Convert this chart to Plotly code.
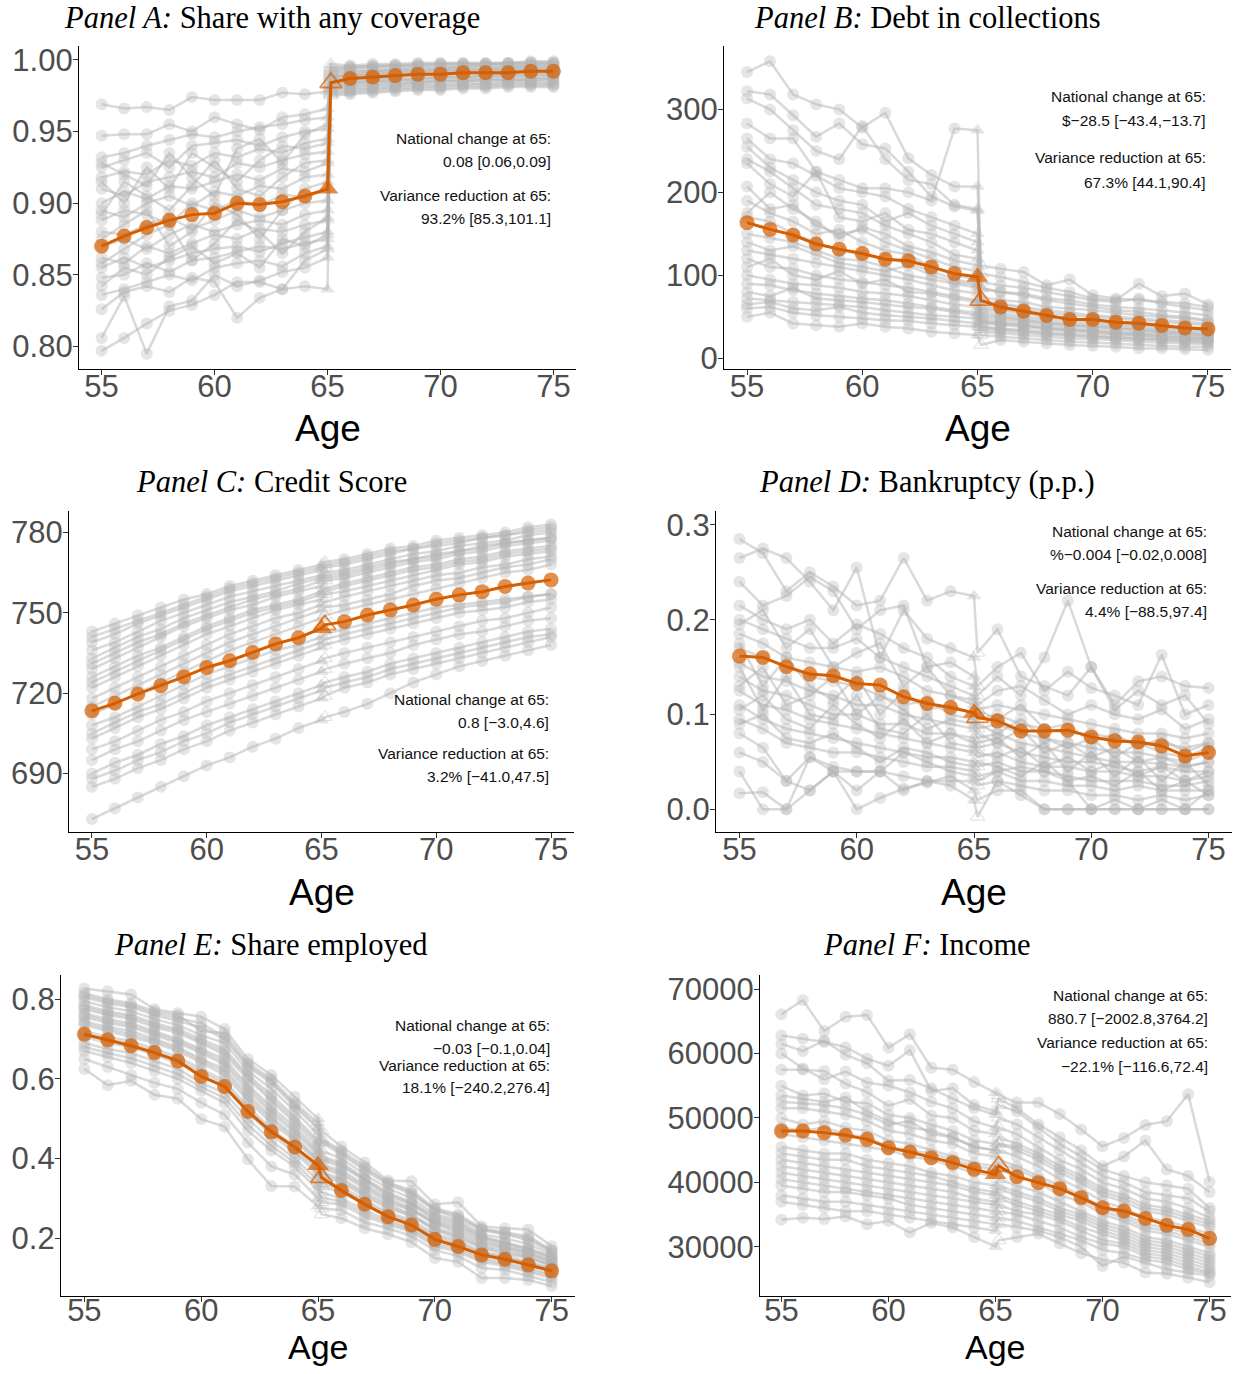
import plotly.graph_objects as go

# ---------------------------------------------------------------
# DATA  (each series: ages 55..64, then 65 pre-value, 65 post-value, then 66..75)
# ---------------------------------------------------------------
AGES_PRE = list(range(55, 65))
AGES_POST = list(range(66, 76))
AGE_TICKS = [55, 60, 65, 70, 75]

# Panel A: Share with any coverage
A_NATIONAL = [0.870, 0.877, 0.883, 0.888, 0.892, 0.893, 0.900, 0.899, 0.901, 0.905,
              0.910, 0.984,
              0.987, 0.988, 0.989, 0.990, 0.990, 0.991, 0.991, 0.991, 0.992, 0.992]
A_STATES = [
    [0.969, 0.966, 0.967, 0.965, 0.974, 0.972, 0.972, 0.972, 0.977, 0.976, 0.978, 0.997, 0.996, 0.997, 0.997, 0.998, 0.998, 0.998, 0.998, 0.998, 0.999, 0.999],
    [0.947, 0.948, 0.948, 0.955, 0.950, 0.960, 0.955, 0.951, 0.960, 0.962, 0.966, 0.995, 0.995, 0.996, 0.996, 0.997, 0.997, 0.997, 0.997, 0.998, 0.998, 0.998],
    [0.932, 0.935, 0.940, 0.944, 0.948, 0.946, 0.950, 0.953, 0.955, 0.958, 0.960, 0.993, 0.994, 0.995, 0.995, 0.996, 0.996, 0.996, 0.997, 0.997, 0.997, 0.997],
    [0.925, 0.930, 0.935, 0.925, 0.940, 0.942, 0.944, 0.940, 0.946, 0.950, 0.952, 0.992, 0.993, 0.993, 0.994, 0.995, 0.995, 0.995, 0.996, 0.996, 0.996, 0.996],
    [0.918, 0.922, 0.920, 0.930, 0.926, 0.935, 0.932, 0.938, 0.935, 0.942, 0.945, 0.990, 0.991, 0.992, 0.993, 0.993, 0.994, 0.994, 0.994, 0.995, 0.995, 0.995],
    [0.910, 0.905, 0.915, 0.918, 0.922, 0.918, 0.928, 0.925, 0.930, 0.934, 0.936, 0.989, 0.990, 0.991, 0.992, 0.992, 0.993, 0.993, 0.993, 0.994, 0.994, 0.994],
    [0.900, 0.908, 0.903, 0.912, 0.910, 0.915, 0.920, 0.916, 0.924, 0.922, 0.928, 0.988, 0.989, 0.990, 0.991, 0.991, 0.992, 0.992, 0.992, 0.993, 0.993, 0.993],
    [0.895, 0.890, 0.900, 0.905, 0.898, 0.908, 0.905, 0.912, 0.910, 0.918, 0.920, 0.987, 0.988, 0.989, 0.990, 0.990, 0.991, 0.991, 0.991, 0.992, 0.992, 0.992],
    [0.888, 0.895, 0.892, 0.885, 0.900, 0.895, 0.902, 0.898, 0.906, 0.904, 0.910, 0.985, 0.986, 0.987, 0.988, 0.989, 0.989, 0.990, 0.990, 0.990, 0.991, 0.991],
    [0.880, 0.878, 0.885, 0.890, 0.882, 0.888, 0.895, 0.890, 0.895, 0.900, 0.902, 0.984, 0.985, 0.986, 0.987, 0.987, 0.988, 0.988, 0.989, 0.989, 0.990, 0.990],
    [0.870, 0.875, 0.868, 0.878, 0.885, 0.880, 0.885, 0.888, 0.885, 0.892, 0.895, 0.983, 0.984, 0.985, 0.986, 0.986, 0.987, 0.987, 0.988, 0.988, 0.988, 0.989],
    [0.862, 0.858, 0.870, 0.865, 0.872, 0.878, 0.875, 0.882, 0.880, 0.885, 0.888, 0.982, 0.983, 0.984, 0.985, 0.985, 0.986, 0.986, 0.987, 0.987, 0.987, 0.988],
    [0.855, 0.862, 0.855, 0.860, 0.865, 0.868, 0.870, 0.866, 0.872, 0.876, 0.880, 0.981, 0.982, 0.983, 0.984, 0.984, 0.985, 0.985, 0.986, 0.986, 0.986, 0.987],
    [0.848, 0.850, 0.858, 0.852, 0.860, 0.862, 0.866, 0.870, 0.868, 0.872, 0.875, 0.979, 0.980, 0.981, 0.982, 0.983, 0.983, 0.984, 0.984, 0.985, 0.985, 0.985],
    [0.836, 0.840, 0.845, 0.850, 0.846, 0.855, 0.858, 0.860, 0.856, 0.865, 0.870, 0.978, 0.979, 0.980, 0.981, 0.982, 0.982, 0.983, 0.983, 0.984, 0.984, 0.984],
    [0.826, 0.838, 0.842, 0.838, 0.848, 0.845, 0.820, 0.834, 0.840, 0.860, 0.868, 0.977, 0.978, 0.979, 0.980, 0.981, 0.981, 0.982, 0.982, 0.983, 0.983, 0.983],
    [0.806, 0.835, 0.795, 0.828, 0.832, 0.850, 0.842, 0.846, 0.852, 0.855, 0.862, 0.976, 0.977, 0.978, 0.979, 0.980, 0.980, 0.981, 0.981, 0.982, 0.982, 0.982],
    [0.797, 0.806, 0.816, 0.825, 0.829, 0.836, 0.845, 0.845, 0.840, 0.842, 0.840, 0.975, 0.976, 0.977, 0.978, 0.979, 0.979, 0.980, 0.980, 0.981, 0.981, 0.981],
    [0.915, 0.900, 0.925, 0.910, 0.935, 0.925, 0.915, 0.930, 0.940, 0.938, 0.942, 0.991, 0.992, 0.992, 0.993, 0.994, 0.994, 0.995, 0.995, 0.995, 0.996, 0.996],
    [0.892, 0.915, 0.905, 0.895, 0.912, 0.930, 0.910, 0.905, 0.918, 0.928, 0.930, 0.988, 0.989, 0.990, 0.991, 0.992, 0.992, 0.993, 0.993, 0.993, 0.994, 0.994],
    [0.875, 0.885, 0.895, 0.870, 0.880, 0.900, 0.892, 0.875, 0.895, 0.910, 0.915, 0.986, 0.987, 0.988, 0.989, 0.990, 0.990, 0.991, 0.991, 0.992, 0.992, 0.992],
    [0.858, 0.868, 0.878, 0.885, 0.860, 0.872, 0.888, 0.880, 0.865, 0.880, 0.890, 0.983, 0.984, 0.985, 0.986, 0.987, 0.988, 0.988, 0.989, 0.989, 0.989, 0.990],
    [0.842, 0.855, 0.850, 0.862, 0.870, 0.858, 0.865, 0.855, 0.875, 0.870, 0.878, 0.980, 0.981, 0.982, 0.983, 0.984, 0.985, 0.985, 0.986, 0.986, 0.986, 0.987],
    [0.928, 0.920, 0.912, 0.935, 0.918, 0.905, 0.938, 0.945, 0.928, 0.948, 0.955, 0.994, 0.995, 0.995, 0.996, 0.996, 0.997, 0.997, 0.997, 0.997, 0.998, 0.998],
]
A_TICKS = [0.80, 0.85, 0.90, 0.95, 1.00]
A_NOTE = ["National change at 65:", "0.08 [0.06,0.09]",
          "Variance reduction at 65:", "93.2% [85.3,101.1]"]
A_TITLE = ("Panel A:", "Share with any coverage")

# Panel B: Debt in collections
B_NATIONAL = [163.5, 155.4, 148.6, 137.7, 131.6, 126.4, 119.5, 117.5, 110.2, 102.1,
              98.1, 69.8,
              61.8, 56.9, 51.7, 46.8, 46.8, 43.6, 42.4, 39.6, 36.7, 35.5]
B_STATES = [
    [345, 358, 318, 306, 300, 278, 296, 241, 221, 207, 207, 112, 108, 104, 88, 95, 76, 72, 70, 68, 66, 62],
    [322, 318, 293, 267, 283, 258, 253, 225, 195, 183, 178, 102, 98, 92, 85, 80, 72, 70, 90, 75, 78, 65],
    [313, 300, 275, 250, 240, 280, 240, 215, 210, 185, 180, 92, 88, 85, 80, 75, 70, 68, 72, 66, 62, 58],
    [283, 265, 265, 225, 215, 205, 205, 200, 190, 277, 275, 84, 80, 78, 72, 70, 65, 62, 60, 58, 55, 52],
    [265, 240, 235, 220, 205, 200, 195, 180, 170, 160, 150, 74, 70, 68, 62, 60, 58, 55, 52, 50, 48, 45],
    [255, 230, 215, 200, 190, 185, 165, 175, 160, 150, 140, 68, 65, 60, 55, 52, 50, 48, 46, 44, 42, 40],
    [240, 225, 205, 185, 180, 175, 160, 150, 140, 125, 120, 63, 60, 55, 52, 48, 46, 44, 42, 40, 38, 36],
    [207, 180, 185, 160, 150, 155, 140, 130, 120, 110, 105, 58, 55, 50, 48, 45, 42, 40, 38, 36, 34, 32],
    [190, 175, 165, 150, 155, 140, 130, 125, 110, 100, 95, 55, 52, 48, 45, 42, 40, 38, 36, 34, 32, 30],
    [170, 165, 150, 140, 130, 125, 120, 115, 105, 95, 90, 50, 48, 45, 42, 40, 38, 36, 34, 32, 30, 28],
    [150, 145, 140, 130, 120, 118, 110, 100, 95, 90, 85, 47, 45, 42, 40, 37, 35, 33, 31, 30, 28, 27],
    [130, 125, 120, 115, 110, 105, 100, 95, 88, 82, 78, 44, 42, 40, 37, 35, 33, 31, 30, 28, 27, 25],
    [120, 110, 108, 100, 95, 92, 88, 85, 80, 75, 70, 42, 40, 37, 35, 33, 31, 29, 28, 26, 25, 24],
    [100, 95, 90, 88, 85, 80, 78, 75, 70, 65, 62, 38, 36, 34, 32, 30, 28, 27, 25, 24, 23, 22],
    [90, 88, 82, 78, 75, 72, 70, 66, 62, 58, 55, 35, 33, 31, 29, 27, 26, 24, 23, 22, 21, 20],
    [72, 70, 68, 66, 64, 62, 58, 55, 52, 50, 48, 32, 30, 28, 26, 24, 23, 22, 20, 19, 18, 17],
    [60, 62, 55, 52, 50, 48, 46, 45, 42, 40, 38, 28, 26, 24, 22, 20, 19, 18, 16, 15, 14, 14],
    [50, 55, 42, 40, 38, 42, 38, 36, 32, 30, 28, 16, 22, 20, 18, 16, 15, 14, 12, 12, 11, 10],
    [175, 200, 180, 165, 145, 158, 150, 135, 128, 118, 112, 70, 66, 62, 58, 55, 52, 50, 48, 46, 44, 42],
    [140, 130, 135, 125, 115, 110, 105, 112, 100, 92, 88, 60, 58, 54, 50, 48, 44, 42, 40, 38, 36, 34],
    [110, 120, 100, 95, 105, 90, 95, 80, 78, 72, 68, 52, 50, 46, 43, 40, 38, 36, 34, 32, 30, 28],
    [80, 75, 85, 72, 70, 68, 65, 62, 60, 56, 52, 45, 42, 40, 36, 34, 32, 30, 28, 26, 24, 23],
    [65, 68, 60, 58, 62, 55, 52, 50, 48, 45, 42, 38, 35, 33, 30, 28, 26, 25, 24, 22, 20, 19],
    [235, 210, 195, 225, 170, 165, 175, 155, 150, 140, 130, 85, 80, 76, 70, 66, 62, 58, 56, 52, 50, 46],
]
B_TICKS = [0, 100, 200, 300]
B_NOTE = ["National change at 65:", "$\u221228.5 [\u221243.4,\u221213.7]",
          "Variance reduction at 65:", "67.3% [44.1,90.4]"]
B_TITLE = ("Panel B:", "Debt in collections")

# Panel C: Credit Score
C_NATIONAL = [713.4, 716.2, 719.7, 722.8, 726.1, 729.6, 732.1, 735.2, 738.4, 740.7,
              744.2, 745.5,
              746.7, 749.2, 751.1, 752.9, 755.1, 756.7, 757.9, 759.8, 761.1, 762.3]
C_STATES = [
    [743, 746, 749, 752, 755, 757, 760, 762, 764, 766, 768, 769, 770, 772, 774, 775, 777, 778, 779, 780, 782, 783],
    [739, 742, 746, 749, 752, 755, 758, 760, 762, 764, 766, 767, 768, 770, 772, 774, 775, 776, 778, 779, 780, 781],
    [736, 739, 743, 747, 750, 753, 756, 758, 760, 762, 764, 765, 766, 768, 770, 772, 773, 775, 776, 777, 779, 780],
    [733, 737, 741, 744, 748, 751, 754, 756, 758, 761, 763, 764, 765, 767, 769, 770, 772, 773, 775, 776, 777, 778],
    [729, 733, 737, 741, 745, 748, 751, 753, 756, 758, 760, 762, 763, 765, 767, 769, 770, 772, 773, 775, 776, 777],
    [726, 730, 734, 737, 741, 745, 748, 751, 753, 755, 758, 759, 761, 763, 765, 767, 768, 770, 771, 773, 774, 775],
    [722, 726, 730, 734, 738, 742, 745, 748, 751, 753, 755, 757, 758, 760, 762, 764, 766, 768, 769, 771, 772, 773],
    [718, 722, 726, 730, 734, 738, 742, 745, 748, 750, 753, 754, 756, 758, 760, 762, 764, 765, 767, 768, 770, 771],
    [712, 716, 720, 724, 728, 732, 736, 739, 742, 745, 748, 749, 751, 753, 755, 757, 759, 761, 763, 765, 766, 768],
    [708, 711, 715, 719, 723, 727, 730, 733, 736, 738, 741, 742, 744, 746, 748, 750, 752, 753, 754, 755, 756, 757],
    [703, 707, 711, 714, 718, 722, 725, 728, 731, 734, 737, 738, 740, 742, 744, 746, 748, 750, 751, 752, 754, 755],
    [699, 702, 706, 710, 713, 717, 720, 723, 726, 729, 732, 733, 735, 737, 739, 741, 743, 745, 747, 748, 750, 752],
    [695, 699, 702, 706, 710, 713, 716, 719, 722, 725, 728, 729, 731, 733, 735, 738, 740, 742, 743, 745, 747, 748],
    [690, 694, 697, 701, 704, 708, 711, 714, 717, 720, 723, 724, 726, 728, 731, 733, 735, 737, 739, 741, 743, 744],
    [685, 688, 692, 695, 699, 702, 706, 709, 712, 715, 718, 719, 722, 724, 727, 729, 731, 733, 735, 737, 739, 741],
    [673, 677, 681, 685, 689, 693, 696, 700, 703, 707, 710, 711, 713, 716, 720, 724, 727, 730, 732, 734, 736, 738],
    [741, 744, 747, 750, 753, 756, 759, 761, 763, 765, 767, 768, 769, 771, 773, 774, 776, 777, 778, 779, 781, 782],
    [731, 735, 739, 742, 746, 749, 752, 755, 757, 759, 762, 763, 764, 766, 768, 770, 771, 773, 774, 776, 777, 778],
    [724, 728, 732, 736, 740, 744, 747, 750, 752, 754, 757, 758, 760, 762, 764, 766, 767, 769, 770, 772, 773, 774],
    [715, 719, 723, 727, 731, 735, 739, 742, 745, 748, 751, 752, 753, 755, 757, 760, 762, 763, 765, 767, 768, 770],
    [705, 709, 713, 716, 720, 724, 727, 730, 733, 736, 739, 740, 742, 744, 746, 748, 750, 752, 753, 754, 756, 757],
    [688, 691, 695, 698, 702, 705, 709, 712, 715, 718, 721, 722, 724, 726, 729, 731, 733, 735, 737, 739, 741, 742],
]
C_TICKS = [690, 720, 750, 780]
C_NOTE = ["National change at 65:", "0.8 [\u22123.0,4.6]",
          "Variance reduction at 65:", "3.2% [\u221241.0,47.5]"]
C_TITLE = ("Panel C:", "Credit Score")

# Panel D: Bankruptcy (p.p.)
D_NATIONAL = [0.1616, 0.1602, 0.1504, 0.1426, 0.1408, 0.1327, 0.1310, 0.1187, 0.1116, 0.1074,
              0.1018, 0.0968,
              0.0933, 0.0827, 0.0827, 0.0835, 0.0764, 0.0722, 0.0711, 0.0669, 0.0563, 0.0599]
D_STATES = [
    [0.285, 0.270, 0.230, 0.250, 0.235, 0.215, 0.220, 0.265, 0.220, 0.230, 0.225, 0.165, 0.190, 0.140, 0.130, 0.120, 0.150, 0.110, 0.135, 0.140, 0.130, 0.128],
    [0.265, 0.275, 0.265, 0.240, 0.210, 0.255, 0.160, 0.210, 0.180, 0.170, 0.160, 0.130, 0.150, 0.165, 0.125, 0.145, 0.128, 0.120, 0.110, 0.163, 0.100, 0.110],
    [0.240, 0.215, 0.225, 0.245, 0.230, 0.190, 0.210, 0.215, 0.150, 0.155, 0.140, 0.120, 0.140, 0.120, 0.160, 0.220, 0.150, 0.105, 0.125, 0.110, 0.120, 0.090],
    [0.215, 0.200, 0.190, 0.200, 0.175, 0.195, 0.185, 0.170, 0.160, 0.140, 0.130, 0.110, 0.125, 0.130, 0.115, 0.100, 0.110, 0.100, 0.095, 0.105, 0.085, 0.095],
    [0.200, 0.190, 0.180, 0.170, 0.170, 0.180, 0.160, 0.150, 0.140, 0.130, 0.120, 0.105, 0.110, 0.105, 0.100, 0.095, 0.090, 0.085, 0.080, 0.080, 0.075, 0.080],
    [0.185, 0.175, 0.160, 0.155, 0.150, 0.145, 0.150, 0.140, 0.125, 0.120, 0.110, 0.095, 0.100, 0.090, 0.085, 0.080, 0.080, 0.075, 0.070, 0.070, 0.065, 0.070],
    [0.170, 0.160, 0.150, 0.140, 0.135, 0.130, 0.120, 0.110, 0.115, 0.100, 0.095, 0.085, 0.090, 0.080, 0.075, 0.070, 0.065, 0.060, 0.060, 0.055, 0.050, 0.060],
    [0.155, 0.140, 0.135, 0.125, 0.120, 0.110, 0.110, 0.100, 0.095, 0.090, 0.085, 0.075, 0.080, 0.070, 0.065, 0.060, 0.055, 0.050, 0.050, 0.048, 0.045, 0.050],
    [0.140, 0.125, 0.120, 0.110, 0.100, 0.100, 0.090, 0.090, 0.080, 0.080, 0.075, 0.065, 0.070, 0.060, 0.055, 0.050, 0.050, 0.045, 0.040, 0.045, 0.040, 0.040],
    [0.125, 0.110, 0.105, 0.095, 0.090, 0.085, 0.080, 0.075, 0.070, 0.065, 0.060, 0.055, 0.060, 0.050, 0.045, 0.045, 0.040, 0.040, 0.035, 0.035, 0.030, 0.035],
    [0.110, 0.095, 0.085, 0.080, 0.075, 0.070, 0.065, 0.060, 0.055, 0.055, 0.050, 0.045, 0.050, 0.040, 0.040, 0.035, 0.030, 0.030, 0.030, 0.025, 0.025, 0.030],
    [0.095, 0.085, 0.070, 0.065, 0.060, 0.060, 0.055, 0.050, 0.045, 0.045, 0.040, 0.035, 0.040, 0.030, 0.030, 0.025, 0.025, 0.020, 0.025, 0.020, 0.020, 0.020],
    [0.080, 0.065, 0.030, 0.055, 0.045, 0.040, 0.040, 0.035, 0.030, 0.030, 0.030, 0.025, 0.030, 0.025, 0.020, 0.020, 0.015, 0.015, 0.010, 0.015, 0.010, 0.015],
    [0.060, 0.050, 0.030, 0.020, 0.040, 0.000, 0.012, 0.022, 0.028, 0.035, 0.020, 0.010, 0.020, 0.020, 0.000, 0.000, 0.000, 0.010, 0.000, 0.000, 0.000, 0.000],
    [0.040, 0.000, 0.000, 0.055, 0.040, 0.020, 0.040, 0.020, 0.030, 0.025, 0.010, -0.008, 0.030, 0.015, 0.000, 0.000, 0.000, 0.000, 0.000, 0.000, 0.000, 0.000],
    [0.017, 0.018, 0.000, 0.020, 0.040, 0.040, 0.040, 0.060, 0.050, 0.040, 0.035, 0.030, 0.040, 0.045, 0.040, 0.030, 0.000, 0.000, 0.000, 0.010, 0.000, 0.020],
    [0.195, 0.210, 0.170, 0.190, 0.150, 0.165, 0.175, 0.130, 0.150, 0.120, 0.115, 0.105, 0.095, 0.110, 0.085, 0.090, 0.070, 0.080, 0.065, 0.075, 0.060, 0.070],
    [0.130, 0.150, 0.110, 0.120, 0.140, 0.100, 0.120, 0.105, 0.085, 0.095, 0.090, 0.080, 0.070, 0.085, 0.060, 0.070, 0.055, 0.065, 0.050, 0.055, 0.045, 0.050],
    [0.105, 0.120, 0.095, 0.085, 0.110, 0.090, 0.075, 0.095, 0.070, 0.080, 0.070, 0.060, 0.055, 0.065, 0.045, 0.055, 0.040, 0.050, 0.035, 0.045, 0.030, 0.040],
    [0.150, 0.105, 0.140, 0.100, 0.095, 0.120, 0.085, 0.080, 0.100, 0.070, 0.065, 0.070, 0.075, 0.055, 0.070, 0.040, 0.060, 0.035, 0.055, 0.030, 0.050, 0.025],
    [0.090, 0.100, 0.075, 0.070, 0.080, 0.065, 0.050, 0.065, 0.060, 0.050, 0.045, 0.050, 0.045, 0.035, 0.050, 0.030, 0.035, 0.025, 0.040, 0.020, 0.030, 0.015],
    [0.175, 0.130, 0.160, 0.130, 0.115, 0.140, 0.100, 0.125, 0.105, 0.110, 0.100, 0.090, 0.080, 0.095, 0.075, 0.065, 0.075, 0.055, 0.070, 0.060, 0.055, 0.065],
]
D_TICKS = [0.0, 0.1, 0.2, 0.3]
D_NOTE = ["National change at 65:", "%\u22120.004 [\u22120.02,0.008]",
          "Variance reduction at 65:", "4.4% [\u221288.5,97.4]"]
D_TITLE = ("Panel D:", "Bankruptcy (p.p.)")

# Panel E: Share employed
E_NATIONAL = [0.712, 0.698, 0.683, 0.666, 0.645, 0.606, 0.581, 0.518, 0.467, 0.429,
              0.383, 0.352,
              0.320, 0.285, 0.254, 0.233, 0.197, 0.179, 0.158, 0.147, 0.133, 0.118]
E_STATES = [
    [0.827, 0.820, 0.812, 0.775, 0.765, 0.756, 0.725, 0.650, 0.610, 0.555, 0.500, 0.470, 0.430, 0.390, 0.345, 0.343, 0.285, 0.290, 0.230, 0.225, 0.222, 0.180],
    [0.815, 0.800, 0.790, 0.770, 0.760, 0.720, 0.715, 0.640, 0.600, 0.540, 0.490, 0.450, 0.420, 0.380, 0.340, 0.320, 0.275, 0.260, 0.225, 0.215, 0.205, 0.170],
    [0.805, 0.790, 0.780, 0.760, 0.745, 0.730, 0.700, 0.630, 0.590, 0.530, 0.475, 0.440, 0.410, 0.370, 0.335, 0.310, 0.270, 0.250, 0.220, 0.210, 0.195, 0.165],
    [0.795, 0.780, 0.770, 0.750, 0.735, 0.710, 0.690, 0.620, 0.575, 0.520, 0.460, 0.420, 0.400, 0.360, 0.325, 0.300, 0.260, 0.245, 0.210, 0.200, 0.185, 0.160],
    [0.785, 0.770, 0.760, 0.740, 0.725, 0.700, 0.675, 0.610, 0.560, 0.505, 0.445, 0.405, 0.390, 0.350, 0.315, 0.290, 0.255, 0.240, 0.205, 0.190, 0.175, 0.155],
    [0.775, 0.760, 0.750, 0.730, 0.715, 0.690, 0.660, 0.600, 0.545, 0.490, 0.430, 0.395, 0.380, 0.345, 0.305, 0.285, 0.245, 0.230, 0.200, 0.185, 0.170, 0.150],
    [0.765, 0.750, 0.740, 0.720, 0.700, 0.675, 0.650, 0.585, 0.530, 0.480, 0.420, 0.385, 0.370, 0.335, 0.300, 0.275, 0.240, 0.225, 0.195, 0.180, 0.165, 0.145],
    [0.755, 0.740, 0.730, 0.710, 0.690, 0.665, 0.635, 0.570, 0.515, 0.465, 0.410, 0.375, 0.360, 0.325, 0.290, 0.270, 0.235, 0.215, 0.185, 0.175, 0.160, 0.140],
    [0.745, 0.730, 0.720, 0.700, 0.680, 0.650, 0.625, 0.560, 0.505, 0.455, 0.400, 0.365, 0.350, 0.315, 0.285, 0.260, 0.225, 0.210, 0.180, 0.170, 0.155, 0.135],
    [0.735, 0.720, 0.705, 0.690, 0.670, 0.640, 0.610, 0.545, 0.490, 0.445, 0.390, 0.355, 0.340, 0.305, 0.275, 0.255, 0.220, 0.200, 0.175, 0.160, 0.150, 0.130],
    [0.720, 0.705, 0.695, 0.675, 0.655, 0.625, 0.595, 0.530, 0.475, 0.430, 0.375, 0.345, 0.330, 0.295, 0.265, 0.245, 0.210, 0.195, 0.165, 0.155, 0.140, 0.125],
    [0.705, 0.690, 0.680, 0.660, 0.640, 0.610, 0.580, 0.515, 0.460, 0.415, 0.360, 0.330, 0.315, 0.285, 0.255, 0.235, 0.200, 0.185, 0.160, 0.150, 0.135, 0.120],
    [0.690, 0.675, 0.665, 0.645, 0.625, 0.590, 0.565, 0.500, 0.445, 0.400, 0.345, 0.315, 0.300, 0.270, 0.245, 0.225, 0.190, 0.175, 0.150, 0.140, 0.125, 0.110],
    [0.670, 0.655, 0.640, 0.620, 0.600, 0.570, 0.540, 0.470, 0.420, 0.380, 0.320, 0.290, 0.285, 0.255, 0.235, 0.215, 0.180, 0.165, 0.140, 0.130, 0.115, 0.100],
    [0.650, 0.630, 0.610, 0.590, 0.575, 0.540, 0.510, 0.440, 0.380, 0.360, 0.300, 0.275, 0.270, 0.240, 0.225, 0.205, 0.170, 0.155, 0.125, 0.120, 0.105, 0.090],
    [0.625, 0.584, 0.595, 0.560, 0.550, 0.499, 0.480, 0.398, 0.331, 0.330, 0.280, 0.260, 0.250, 0.225, 0.210, 0.190, 0.150, 0.140, 0.100, 0.100, 0.095, 0.080],
    [0.810, 0.795, 0.785, 0.765, 0.752, 0.740, 0.705, 0.635, 0.595, 0.535, 0.480, 0.445, 0.415, 0.375, 0.338, 0.315, 0.272, 0.255, 0.222, 0.212, 0.200, 0.168],
    [0.780, 0.765, 0.755, 0.735, 0.720, 0.695, 0.668, 0.605, 0.552, 0.498, 0.438, 0.400, 0.385, 0.348, 0.310, 0.288, 0.250, 0.235, 0.202, 0.188, 0.172, 0.152],
    [0.760, 0.745, 0.735, 0.715, 0.695, 0.670, 0.642, 0.578, 0.522, 0.472, 0.415, 0.380, 0.365, 0.330, 0.295, 0.272, 0.238, 0.220, 0.190, 0.178, 0.162, 0.142],
    [0.740, 0.725, 0.712, 0.695, 0.675, 0.645, 0.618, 0.552, 0.498, 0.450, 0.395, 0.360, 0.345, 0.310, 0.280, 0.258, 0.222, 0.205, 0.178, 0.165, 0.152, 0.132],
    [0.712, 0.698, 0.688, 0.668, 0.648, 0.618, 0.588, 0.522, 0.468, 0.422, 0.368, 0.338, 0.322, 0.290, 0.260, 0.240, 0.205, 0.190, 0.162, 0.152, 0.138, 0.122],
    [0.680, 0.665, 0.652, 0.632, 0.612, 0.580, 0.552, 0.485, 0.432, 0.390, 0.332, 0.302, 0.292, 0.262, 0.240, 0.220, 0.185, 0.170, 0.145, 0.135, 0.120, 0.105],
]
E_TICKS = [0.2, 0.4, 0.6, 0.8]
E_NOTE = ["National change at 65:", "\u22120.03 [\u22120.1,0.04]",
          "Variance reduction at 65:", "18.1% [\u2212240.2,276.4]"]
E_TITLE = ("Panel E:", "Share employed")

# Panel F: Income
F_NATIONAL = [47980, 47980, 47720, 47310, 46680, 45390, 44720, 43830, 43060, 42020,
              41240, 42540,
              40880, 39950, 39020, 37620, 36060, 35540, 34400, 33320, 32690, 31300]
F_STATES = [
    [66100, 68300, 63500, 65700, 66000, 60900, 63000, 57800, 57500, 55600, 53900, 53500, 52400, 52400, 50600, 48200, 45600, 46900, 48900, 49500, 53700, 40100],
    [62800, 62300, 61800, 61000, 59200, 58100, 60500, 54200, 54600, 52000, 51000, 53000, 51500, 49000, 47000, 45000, 42500, 44000, 46500, 42000, 41000, 38500],
    [61500, 60400, 62000, 59800, 58500, 55800, 55900, 54600, 53000, 51500, 50500, 52000, 51000, 48500, 46000, 44000, 42000, 41000, 40000, 39500, 39000, 36000],
    [60000, 57700, 56000, 57200, 55500, 55000, 54000, 52500, 51500, 49500, 48500, 50000, 49000, 47000, 45000, 43000, 41000, 40000, 38500, 38000, 37500, 35500],
    [57500, 57500, 57300, 55300, 54000, 51900, 52900, 50400, 50000, 48000, 47500, 48500, 47500, 45500, 43500, 42000, 40000, 39000, 37500, 37000, 36000, 34500],
    [55000, 53500, 53800, 52500, 52300, 50500, 50000, 49000, 48000, 46500, 46000, 47000, 46000, 44500, 42500, 41000, 39000, 38000, 36500, 36000, 35000, 34000],
    [53500, 53000, 52500, 53200, 51000, 49500, 48500, 48000, 47000, 45500, 45000, 46000, 45000, 43500, 41500, 40000, 38000, 37000, 35500, 35000, 34000, 33000],
    [51500, 51500, 51000, 50500, 49500, 48000, 47500, 46500, 46000, 44500, 44000, 45000, 44000, 42500, 40500, 39000, 37000, 36000, 34500, 34000, 33000, 32000],
    [50000, 49000, 49500, 48500, 48000, 46500, 46000, 45000, 44000, 43000, 42500, 43500, 42500, 41000, 39500, 38000, 36000, 35000, 33500, 33000, 32000, 31000],
    [47500, 47000, 46500, 46000, 45500, 45000, 44000, 43500, 42500, 41500, 41000, 42000, 41000, 40000, 38000, 37000, 35000, 34000, 32500, 32000, 31000, 30000],
    [45500, 45000, 44500, 44500, 43500, 43000, 42500, 41500, 41000, 40000, 39500, 40500, 39500, 38500, 37000, 35500, 34000, 33000, 31500, 31000, 30000, 29000],
    [43500, 43000, 42500, 42000, 41500, 41000, 40500, 40000, 39500, 38500, 38000, 39000, 38000, 37000, 35500, 34500, 33000, 32000, 30500, 30000, 29000, 28000],
    [41500, 41000, 40500, 40000, 39500, 39000, 38500, 38000, 37500, 37000, 36500, 37500, 36500, 35500, 34500, 33000, 32000, 31000, 29500, 29000, 28000, 27000],
    [39500, 39000, 38500, 38500, 38000, 37500, 36500, 36000, 35500, 35000, 34500, 35500, 35000, 34000, 33000, 31500, 30500, 30000, 28500, 28000, 27000, 26000],
    [37000, 36500, 36000, 35500, 35500, 35000, 34500, 34000, 33500, 33000, 32500, 33500, 33000, 32500, 31500, 30000, 27000, 28500, 27500, 26500, 26000, 25500],
    [34200, 34500, 34300, 34700, 33500, 34000, 32200, 33700, 33000, 31500, 30000, 31000, 31500, 32000, 30500, 29000, 28000, 27500, 26000, 25800, 25200, 24500],
    [52500, 52200, 52000, 51500, 50500, 49000, 49500, 47500, 47000, 45500, 45000, 46000, 45500, 44000, 42000, 40500, 38500, 37500, 36000, 35500, 34500, 33500],
    [48500, 48000, 48500, 47500, 47000, 45500, 45000, 44500, 43500, 42500, 42000, 43000, 42000, 40500, 39000, 37500, 35500, 34500, 33000, 32500, 31500, 30500],
    [44500, 44000, 43500, 43500, 42500, 42000, 41500, 41000, 40000, 39000, 38500, 39500, 38500, 37500, 36000, 35000, 33500, 32500, 31000, 30500, 29500, 28500],
    [42500, 42000, 41500, 41000, 40500, 40000, 39500, 39000, 38500, 37500, 37000, 38000, 37000, 36000, 35000, 34000, 32500, 31500, 30000, 29500, 28500, 27500],
    [40500, 40000, 39500, 39000, 38500, 38000, 37500, 37000, 36500, 36000, 35500, 36500, 35500, 35000, 34000, 32500, 31000, 30500, 29000, 28500, 27500, 26500],
    [38000, 37500, 37000, 37000, 36500, 36000, 35500, 35000, 34500, 34000, 33500, 34500, 34000, 33000, 32000, 31000, 29500, 29000, 28000, 27500, 26500, 25800],
]
F_TICKS = [30000, 40000, 50000, 60000, 70000]
F_NOTE = ["National change at 65:", "880.7 [\u22122002.8,3764.2]",
          "Variance reduction at 65:", "\u221222.1% [\u2212116.6,72.4]"]
F_TITLE = ("Panel F:", "Income")

# ---------------------------------------------------------------
# STYLE / LAYOUT
# ---------------------------------------------------------------
W, H = 1236, 1374
DODGE = 0.15
ORANGE = "#D55E00"
GRAY = "rgba(180,180,180,0.5)"
SANS = "Liberation Sans, Arial, sans-serif"
SERIF = "Liberation Serif, Times New Roman, serif"

# pixel boxes (left, right, top, bottom), y-range, tick format, note line y-pixels, title centre
PANELS = [
    dict(nat=A_NATIONAL, states=A_STATES, ticks=A_TICKS, note=A_NOTE, title=A_TITLE,
         box=(79, 576, 48, 370), yr=(0.7845, 1.0097), fmt=".2f",
         note_y=(140, 163, 197, 220), title_xy=(272, 20), last_row=False),
    dict(nat=B_NATIONAL, states=B_STATES, ticks=B_TICKS, note=B_NOTE, title=B_TITLE,
         box=(724, 1231, 48, 370), yr=(-12.5, 376.5), fmt="d",
         note_y=(98, 122, 159, 184), title_xy=(927, 20), last_row=False),
    dict(nat=C_NATIONAL, states=C_STATES, ticks=C_TICKS, note=C_NOTE, title=C_TITLE,
         box=(69, 574, 512, 832), yr=(668.2, 788.0), fmt="d",
         note_y=(700, 723, 754, 777), title_xy=(271, 483), last_row=False),
    dict(nat=D_NATIONAL, states=D_STATES, ticks=D_TICKS, note=D_NOTE, title=D_TITLE,
         box=(716, 1232, 512, 832), yr=(-0.0237, 0.3145), fmt=".1f",
         note_y=(532, 555, 589, 612), title_xy=(927, 483), last_row=False),
    dict(nat=E_NATIONAL, states=E_STATES, ticks=E_TICKS, note=E_NOTE, title=E_TITLE,
         box=(61, 575, 975, 1295), yr=(0.0548, 0.8603), fmt=".1f",
         note_y=(1025, 1048, 1065, 1087), title_xy=(271, 945), last_row=True),
    dict(nat=F_NATIONAL, states=F_STATES, ticks=F_TICKS, note=F_NOTE, title=F_TITLE,
         box=(760, 1231, 975, 1295), yr=(22350, 72170), fmt="d",
         note_y=(995, 1018, 1042, 1066), title_xy=(927, 945), last_row=True),
]

X_POS = AGES_PRE + [65, 65 + DODGE] + AGES_POST
SYMBOLS = ["circle"] * 10 + ["triangle-up", "triangle-up-open"] + ["circle"] * 10


def series_trace(xa, ya, yvals, color, size, tri, lw, open_w):
    return go.Scatter(
        x=X_POS, y=yvals, xaxis=xa, yaxis=ya, mode="lines+markers",
        line=dict(color=color, width=lw),
        marker=dict(symbol=SYMBOLS, color=color,
                    size=[size] * 10 + [tri, tri] + [size] * 10,
                    line=dict(color=color, width=[0] * 10 + [0, open_w] + [0] * 10)),
        hoverinfo="skip", showlegend=False)


fig = go.Figure()
layout = dict(width=W, height=H, margin=dict(l=0, r=0, t=0, b=0),
              paper_bgcolor="white", plot_bgcolor="white", showlegend=False)
annotations = []


def px(x):
    return x / W


def py(y):
    # vertical pixel (top-down) -> paper fraction, with a small calibration
    ys = 1.009826 * y - 5.2457
    return 1 - ys / H


for i, p in enumerate(PANELS, start=1):
    sfx = "" if i == 1 else str(i)
    xa, ya = "x" + sfx, "y" + sfx
    for row in p["states"]:
        fig.add_trace(series_trace(xa, ya, row, GRAY, 12, 13, 2.5, 1.2))
    fig.add_trace(series_trace(xa, ya, p["nat"], ORANGE, 15, 19, 3, 1.8))

    l, r, t, b = p["box"]
    axis_common = dict(showline=True, linecolor="black", linewidth=1.3,
                       ticks="outside", ticklen=5, tickwidth=1.2, tickcolor="#333333",
                       showgrid=False, zeroline=False, fixedrange=True,
                       tickfont=dict(family=SANS, size=31, color="#4D4D4D"))
    layout["xaxis" + sfx] = dict(axis_common, domain=[px(l), px(r)], range=[54, 76],
                                 tickvals=AGE_TICKS, anchor=ya,
                                 ticklabelstandoff=-18 if p["last_row"] else -15)
    layout["yaxis" + sfx] = dict(axis_common, domain=[py(b), py(t)], range=list(p["yr"]),
                                 tickvals=p["ticks"], tickformat=p["fmt"], anchor=xa,
                                 ticklabelstandoff=-6)

    # notes
    for txt, yy in zip(p["note"], p["note_y"]):
        annotations.append(dict(text=txt, xref=xa, x=75, xanchor="right",
                                yref="paper", y=py(yy), yanchor="middle",
                                showarrow=False,
                                font=dict(family=SANS, size=15.5, color="#111111")))
    # x-axis title
    if p["last_row"]:
        age_pos = dict(y=0, yanchor="bottom")
        age_size = 34
    else:
        age_pos = dict(y=py(b + 60), yanchor="middle")
        age_size = 37
    annotations.append(dict(text="Age", xref=xa, x=65, xanchor="center",
                            yref="paper", showarrow=False, borderpad=0,
                            font=dict(family=SANS, size=age_size, color="black"),
                            **age_pos))
    # panel title
    tx, ty = p["title_xy"]
    annotations.append(dict(text="<i>%s</i> %s" % p["title"], xref="paper", x=px(tx),
                            xanchor="center", yref="paper", y=py(ty), yanchor="middle",
                            showarrow=False,
                            font=dict(family=SERIF, size=30.5, color="black")))

layout["annotations"] = annotations
fig.update_layout(**layout)
fig.write_html("out.html")
